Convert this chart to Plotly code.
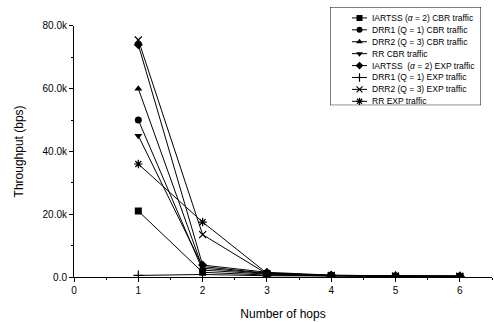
import plotly.graph_objects as go

hops = [1, 2, 3, 4, 5, 6]
names = [
    "IARTSS (<i>α</i> = 2) CBR traffic",
    "DRR1 (Q = 1) CBR traffic",
    "DRR2 (Q = 3) CBR traffic",
    "RR CBR traffic",
    "IARTSS  (<i>α</i> = 2) EXP traffic",
    "DRR1 (Q = 1) EXP traffic",
    "DRR2 (Q = 3) EXP traffic",
    "RR EXP traffic",
]
iartss_cbr = [21000, 1500, 600, 300, 200, 150]
drr1_cbr = [50000, 2200, 900, 400, 250, 200]
drr2_cbr = [60000, 2800, 1100, 450, 300, 250]
rr_cbr = [45000, 3300, 1200, 500, 300, 250]
iartss_exp = [74000, 3800, 1500, 600, 350, 300]
drr1_exp = [500, 800, 400, 300, 200, 150]
drr2_exp = [75500, 13500, 1000, 500, 300, 250]
rr_exp = [36000, 17500, 1200, 500, 300, 250]
series = [iartss_cbr, drr1_cbr, drr2_cbr, rr_cbr, iartss_exp, drr1_exp, drr2_exp, rr_exp]
symbols = ["square", "circle", "triangle-up", "triangle-down", "diamond",
           "cross-thin", "x-thin", "asterisk"]

y_ticks = [0, 20000, 40000, 60000, 80000]
y_ticktext = ["0.0", "20.0k", "40.0k", "60.0k", "80.0k"]
x_ticks = [0, 1, 2, 3, 4, 5, 6]

W, H = 494, 322
ML, MR, MT, MB = 74, 2, 5, 45
plot_h = H - MT - MB
main_top_frac = (277 - (H - MB - plot_h)) / plot_h  # placeholder, recomputed below
main_top_frac = (H - MB - 24) / plot_h

# compact legend box (pixel layout inside legend axes)
LEG_X0, LEG_X1, LEG_Y0, LEG_Y1 = 330, 481, 5, 104
leg_w, leg_h = LEG_X1 - LEG_X0, LEG_Y1 - LEG_Y0
plot_w = W - ML - MR
leg_xdom = [(LEG_X0 - ML) / plot_w, (LEG_X1 - ML) / plot_w]
leg_ydom = [(H - MB - LEG_Y1) / plot_h, (H - MB - LEG_Y0) / plot_h]
row_step = 12.0
row0 = 11.0


def marker_style(sym, size=7):
    thin = sym.endswith("thin") or sym == "asterisk"
    return dict(symbol=sym, size=size, color="black",
                line=dict(color="black", width=1.2 if thin else 0))


fig = go.Figure()
for name, vals, sym in zip(names, series, symbols):
    fig.add_trace(go.Scatter(
        x=hops, y=vals, name=name, mode="lines+markers", showlegend=False,
        line=dict(color="black", width=1),
        marker=marker_style(sym),
        xaxis="x", yaxis="y",
    ))

# legend glyphs
for i, (name, sym) in enumerate(zip(names, symbols)):
    yy = row0 + i * row_step
    fig.add_trace(go.Scatter(
        x=[22, 37], y=[yy, yy], mode="lines", showlegend=False, hoverinfo="skip",
        line=dict(color="black", width=1), xaxis="x2", yaxis="y2"))
    fig.add_trace(go.Scatter(
        x=[29.5], y=[yy], mode="markers", showlegend=False, hoverinfo="skip",
        marker=marker_style(sym, 6), xaxis="x2", yaxis="y2"))
    fig.add_annotation(x=40, y=yy, xref="x2", yref="y2", text=name,
                       showarrow=False, xanchor="left", yanchor="middle",
                       font=dict(size=8.5, color="black"))

fig.add_shape(type="rect", xref="x2", yref="y2", x0=0, x1=leg_w, y0=0, y1=leg_h,
              line=dict(color="black", width=1), fillcolor="white", layer="below")

fig.update_layout(
    width=W, height=H,
    margin=dict(l=ML, r=MR, t=MT, b=MB),
    paper_bgcolor="white", plot_bgcolor="white",
    font=dict(family="Arial, Liberation Sans, sans-serif", color="black", size=10),
    showlegend=False,
    xaxis=dict(range=[0, 6.5], tickvals=x_ticks, showgrid=False, zeroline=False,
               showline=True, linecolor="black", linewidth=1,
               ticks="outside", ticklen=4, tickcolor="black",
               minor=dict(dtick=0.5, ticks="outside", ticklen=2, tickcolor="black"),
               title=dict(text="Number of hops", font=dict(size=12), standoff=14),
               tickfont=dict(size=10)),
    yaxis=dict(range=[0, 80000], tickvals=y_ticks, ticktext=y_ticktext,
               domain=[0, main_top_frac],
               showgrid=False, zeroline=False,
               showline=True, linecolor="black", linewidth=1,
               ticks="outside", ticklen=4, tickcolor="black",
               minor=dict(dtick=10000, ticks="outside", ticklen=2, tickcolor="black"),
               title=dict(text="Throughput (bps)", font=dict(size=12), standoff=16),
               tickfont=dict(size=10)),
    xaxis2=dict(domain=leg_xdom, range=[0, leg_w], visible=False, fixedrange=True,
                anchor="y2"),
    yaxis2=dict(domain=leg_ydom, range=[leg_h, 0], visible=False, fixedrange=True,
                anchor="x2"),
)

fig.write_html("out.html")
